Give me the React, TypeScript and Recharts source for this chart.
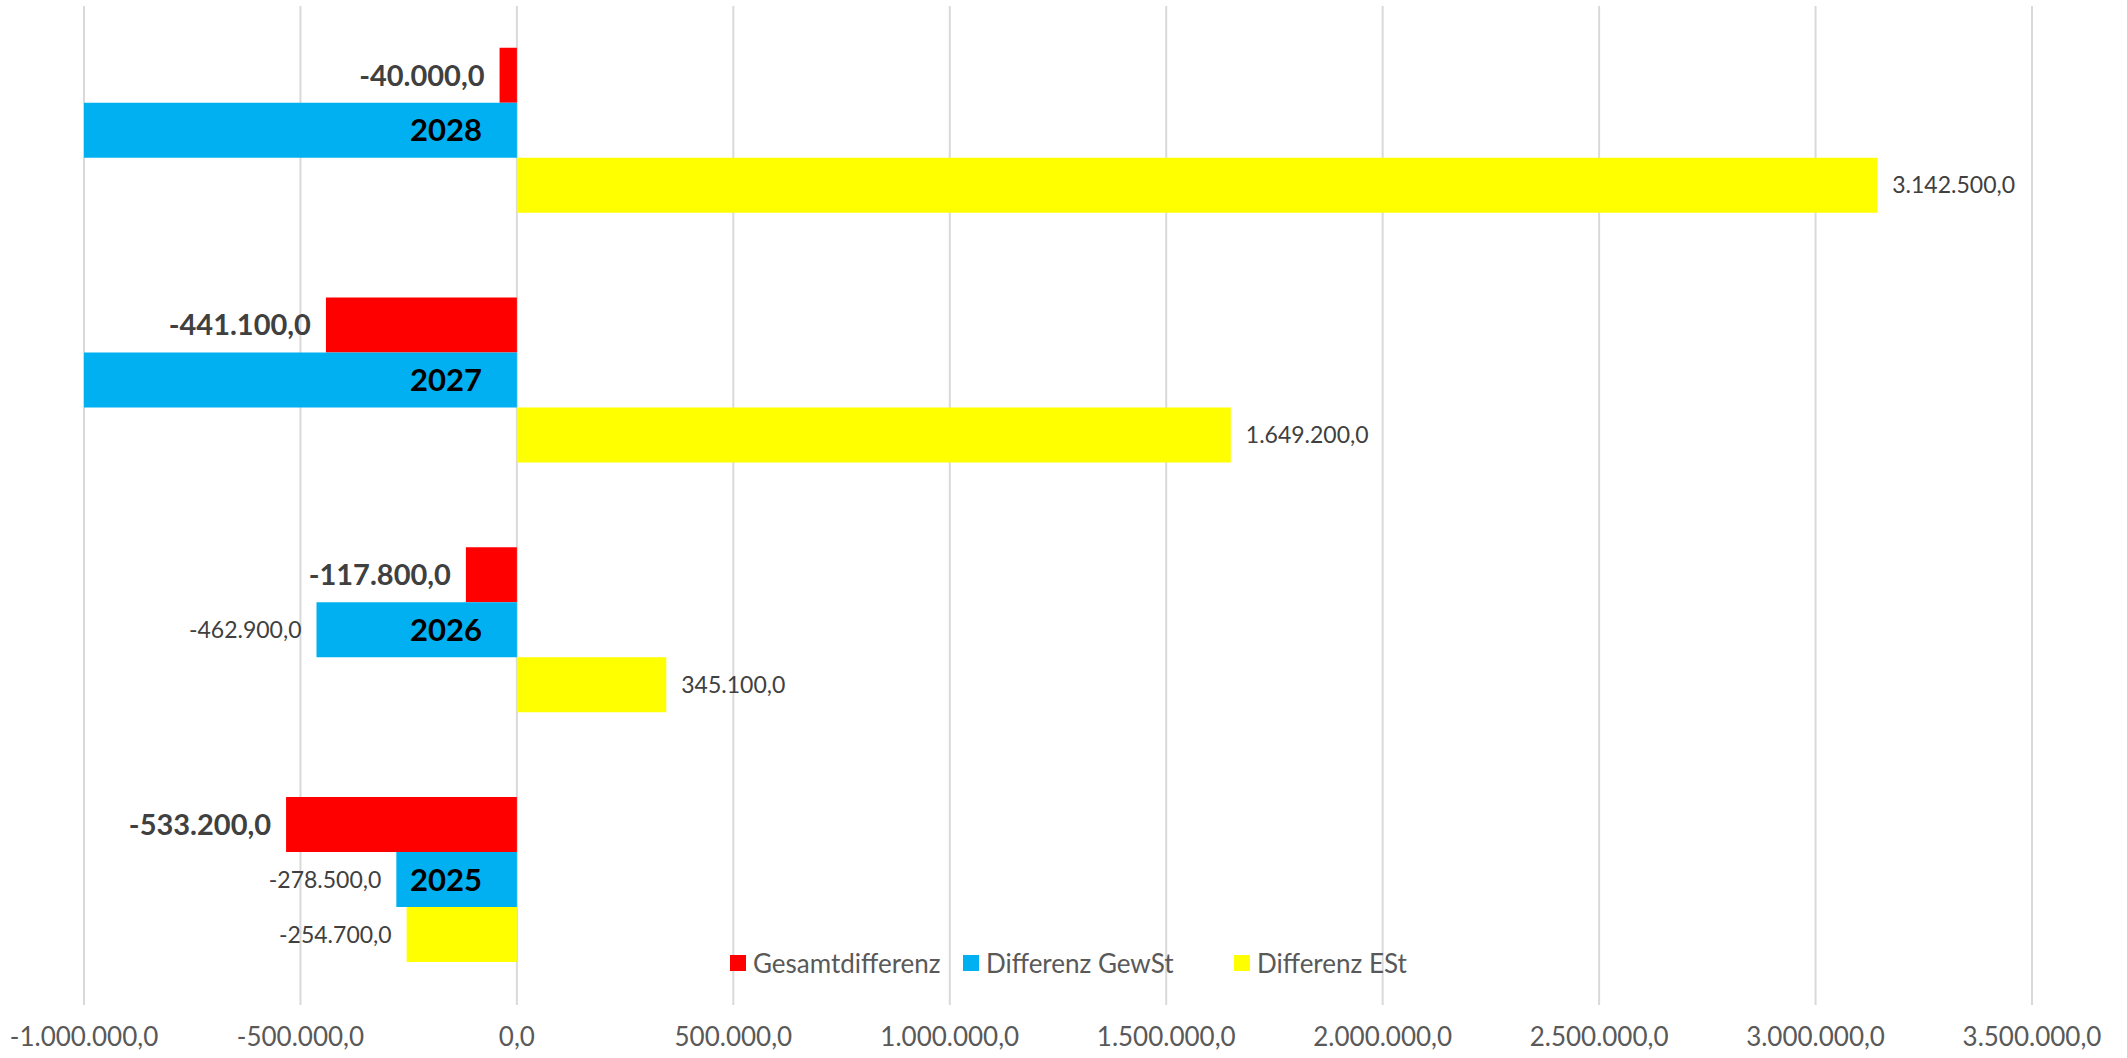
import React from 'react';
import { BarChart, Bar, XAxis, YAxis, CartesianGrid, LabelList } from 'recharts';

const years = ['2025', '2026', '2027', '2028'];
const gesamtdifferenz = [-533200, -117800, -441100, -40000];
const differenzGewSt = [-278500, -462900, -2090300, -3182500];
const differenzESt = [-254700, 345100, 1649200, 3142500];
const xTicks = [-1000000, -500000, 0, 500000, 1000000, 1500000, 2000000, 2500000, 3000000, 3500000];

const seriesNames = ['Gesamtdifferenz', 'Differenz GewSt', 'Differenz ESt'];
const seriesKeys = ['gesamt', 'gewst', 'est'];
const seriesColors = ['#FF0000', '#00B0F0', '#FFFF00'];

const X_MIN = xTicks[0];
const X_MAX = xTicks[xTicks.length - 1];
const FONT = 'Lato, "Open Sans", sans-serif';

const data = years.map((year, i) => ({
  year,
  gesamt: gesamtdifferenz[i],
  gewst: differenzGewSt[i],
  est: differenzESt[i],
}));

// German number format: 1.234.567,0
const fmt = (v: number) => {
  const neg = v < 0;
  const abs = Math.abs(v);
  const int = Math.floor(abs).toString().replace(/\B(?=(\d{3})+(?!\d))/g, '.');
  const dec = Math.round((abs - Math.floor(abs)) * 10);
  return `${neg ? '-' : ''}${int},${dec}`;
};

const barBox = (props: any) => {
  const vb = props.viewBox && props.viewBox.width !== undefined ? props.viewBox : props;
  const x = Number(vb.x), w = Number(vb.width), y = Number(vb.y), h = Number(vb.height);
  return { left: Math.min(x, x + w), right: Math.max(x, x + w), cy: y + h / 2 };
};

// value label next to the end of the bar (outside end, like Excel)
const makeValueLabel = (bold: boolean) => (props: any) => {
  const value = Number(props.value);
  if (value < X_MIN || value > X_MAX) return null;
  const { left, right, cy } = barBox(props);
  const neg = value < 0;
  return (
    <text
      x={neg ? left - 15 : right + 15}
      y={cy}
      dy="0.36em"
      textAnchor={neg ? 'end' : 'start'}
      fill="#404040"
      fontFamily={FONT}
      fontSize={bold ? 29 : 23}
      fontWeight={bold ? 700 : 400}
    >
      {fmt(value)}
    </text>
  );
};

// category name drawn next to the zero line, inside the blue bar
const YearLabel = (props: any) => {
  const { left, right, cy } = barBox(props);
  const gew = data[props.index]?.gewst ?? -1;
  const zero = gew < 0 ? right : left;
  return (
    <text x={zero - 35} y={cy} dy="0.36em" textAnchor="end" fill="#000" fontFamily={FONT} fontSize={31} fontWeight={700}>
      {props.value}
    </text>
  );
};

const legendPos = [730, 963, 1234];

export default function App() {
  return (
    <div style={{ position: 'absolute', left: 0, top: 0, width: 2127, height: 1058, background: '#fff' }}>
      <BarChart
        layout="vertical"
        width={2127}
        height={1058}
        data={data}
        margin={{ top: 6, right: 95, bottom: 0, left: 84 }}
        barCategoryGap="16.67%"
        barGap={0}
      >
        <CartesianGrid horizontal={false} stroke="#d9d9d9" strokeWidth={2} />
        <XAxis
          type="number"
          domain={[X_MIN, X_MAX]}
          ticks={xTicks}
          allowDataOverflow
          interval={0}
          axisLine={false}
          tickLine={false}
          tickSize={0}
          tickMargin={23}
          height={53}
          tickFormatter={fmt}
          tick={{ fill: '#595959', fontSize: 26, fontFamily: FONT }}
        />
        <YAxis type="category" dataKey="year" reversed hide />
        <Bar dataKey="gesamt" fill={seriesColors[0]} isAnimationActive={false}>
          <LabelList dataKey="gesamt" content={makeValueLabel(true)} />
        </Bar>
        <Bar dataKey="gewst" fill={seriesColors[1]} isAnimationActive={false}>
          <LabelList dataKey="gewst" content={makeValueLabel(false)} />
          <LabelList dataKey="year" content={YearLabel} />
        </Bar>
        <Bar dataKey="est" fill={seriesColors[2]} isAnimationActive={false}>
          <LabelList dataKey="est" content={makeValueLabel(false)} />
        </Bar>
      </BarChart>
      {seriesNames.map((name, i) => (
        <div
          key={seriesKeys[i]}
          style={{
            position: 'absolute',
            left: legendPos[i],
            top: 947,
            height: 32,
            display: 'flex',
            alignItems: 'center',
            fontFamily: FONT,
            fontSize: 26,
            color: '#595959',
            whiteSpace: 'nowrap',
          }}
        >
          <span style={{ display: 'inline-block', width: 16, height: 16, background: seriesColors[i], marginRight: 7 }} />
          {name}
        </div>
      ))}
    </div>
  );
}
